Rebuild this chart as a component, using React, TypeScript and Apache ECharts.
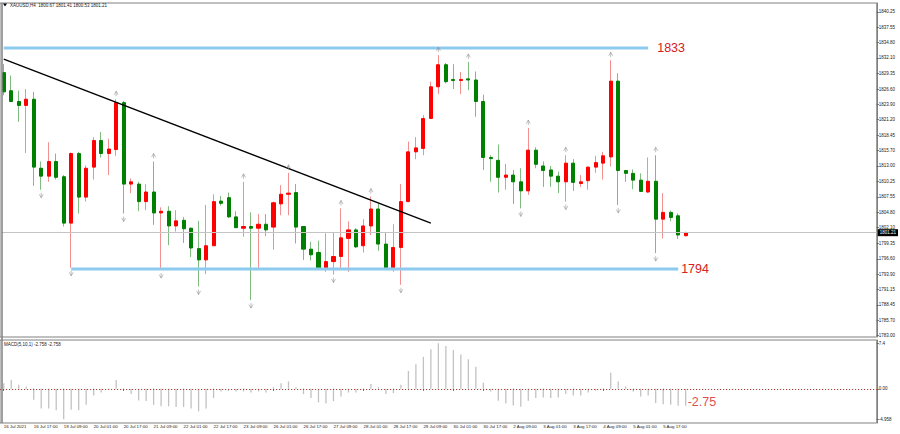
import React, { useEffect, useRef } from 'react';
import * as echarts from 'echarts';

const headerText = 'XAUUSD,H4  1800.67 1801.41 1800.53 1801.21';
const macdTitle = 'MACD(5,10,1) -2.758 -2.758';

// each bar: [open, close, low, high]
const candles: number[][] = [
  [1829.5, 1826.1, 1825.5, 1831.0],
  [1826.3, 1824.4, 1824.3, 1829.0],
  [1824.4, 1823.7, 1820.8, 1826.3],
  [1823.7, 1824.8, 1815.3, 1826.6],
  [1824.8, 1812.8, 1809.5, 1826.1],
  [1812.6, 1811.2, 1808.8, 1813.8],
  [1811.2, 1813.8, 1810.2, 1817.2],
  [1813.8, 1811.0, 1810.6, 1815.2],
  [1811.1, 1802.9, 1802.3, 1811.4],
  [1802.9, 1815.2, 1795.0, 1815.4],
  [1815.2, 1807.5, 1804.6, 1815.5],
  [1807.5, 1812.6, 1806.7, 1813.1],
  [1812.8, 1817.5, 1810.6, 1818.1],
  [1817.5, 1815.2, 1814.5, 1819.0],
  [1815.2, 1816.0, 1811.4, 1817.8],
  [1815.9, 1824.2, 1814.8, 1824.8],
  [1824.2, 1809.8, 1804.6, 1824.5],
  [1809.8, 1810.2, 1808.2, 1810.8],
  [1809.8, 1806.7, 1805.0, 1810.2],
  [1806.7, 1808.4, 1805.2, 1809.8],
  [1808.4, 1804.7, 1802.6, 1813.8],
  [1804.7, 1805.0, 1794.6, 1805.7],
  [1805.0, 1802.4, 1799.0, 1805.9],
  [1802.4, 1803.3, 1801.4, 1805.2],
  [1803.4, 1801.9, 1799.4, 1804.0],
  [1802.0, 1798.5, 1796.9, 1802.1],
  [1798.4, 1796.4, 1791.7, 1803.3],
  [1796.4, 1798.9, 1793.9, 1806.1],
  [1798.9, 1806.7, 1798.9, 1808.0],
  [1806.8, 1806.4, 1806.0, 1807.7],
  [1807.4, 1804.0, 1803.8, 1808.3],
  [1804.0, 1802.1, 1802.0, 1805.0],
  [1802.0, 1802.3, 1800.5, 1810.2],
  [1802.3, 1802.0, 1789.3, 1804.8],
  [1802.0, 1802.7, 1794.7, 1804.5],
  [1802.7, 1801.7, 1800.6, 1804.5],
  [1802.2, 1806.5, 1798.2, 1806.7],
  [1806.3, 1808.0, 1804.3, 1809.6],
  [1808.0, 1808.2, 1804.3, 1811.8],
  [1808.3, 1802.2, 1799.3, 1809.8],
  [1802.3, 1798.3, 1796.4, 1802.4],
  [1798.3, 1797.3, 1796.3, 1799.6],
  [1797.7, 1794.7, 1794.7, 1799.8],
  [1794.7, 1796.1, 1794.3, 1801.1],
  [1796.1, 1797.0, 1793.8, 1801.2],
  [1797.0, 1800.3, 1794.6, 1805.5],
  [1800.2, 1801.7, 1794.3, 1803.2],
  [1801.7, 1798.7, 1798.5, 1802.0],
  [1798.9, 1802.4, 1797.7, 1803.6],
  [1802.4, 1805.4, 1800.8, 1807.6],
  [1805.4, 1799.2, 1798.0, 1806.4],
  [1799.2, 1795.0, 1794.6, 1801.3],
  [1795.0, 1798.6, 1794.3, 1802.7],
  [1798.6, 1806.7, 1792.0, 1809.8],
  [1806.7, 1815.5, 1806.6, 1817.3],
  [1815.5, 1816.2, 1814.2, 1818.1],
  [1816.1, 1821.4, 1814.9, 1822.0],
  [1821.4, 1827.0, 1821.4, 1827.9],
  [1827.0, 1830.9, 1825.7, 1832.6],
  [1830.9, 1827.9, 1827.6, 1831.2],
  [1828.3, 1828.1, 1826.6, 1831.0],
  [1828.1, 1828.3, 1825.7, 1829.6],
  [1828.4, 1828.2, 1826.4, 1831.4],
  [1828.2, 1824.4, 1821.7, 1829.7],
  [1824.4, 1814.5, 1812.3, 1825.6],
  [1814.5, 1814.3, 1810.2, 1814.9],
  [1814.0, 1811.0, 1808.3, 1816.8],
  [1811.0, 1811.4, 1808.8, 1813.4],
  [1811.4, 1810.2, 1806.3, 1812.3],
  [1810.2, 1808.6, 1805.5, 1812.6],
  [1808.6, 1815.8, 1807.9, 1819.7],
  [1815.8, 1813.3, 1812.6, 1816.3],
  [1813.0, 1812.2, 1809.3, 1813.8],
  [1812.3, 1811.2, 1809.3, 1813.0],
  [1811.2, 1810.2, 1808.2, 1812.0],
  [1810.2, 1813.5, 1806.7, 1814.9],
  [1813.5, 1810.1, 1808.6, 1814.2],
  [1809.9, 1810.2, 1809.3, 1811.4],
  [1810.4, 1812.8, 1808.8, 1812.9],
  [1812.8, 1813.6, 1811.8, 1814.8],
  [1813.5, 1814.8, 1810.6, 1815.5],
  [1814.6, 1828.0, 1812.9, 1831.7],
  [1828.0, 1812.2, 1806.1, 1829.4],
  [1812.2, 1811.7, 1810.2, 1812.3],
  [1811.7, 1810.5, 1808.9, 1812.4],
  [1810.5, 1808.5, 1808.4, 1811.7],
  [1808.4, 1810.3, 1808.2, 1814.5],
  [1810.3, 1803.6, 1797.6, 1814.9],
  [1803.6, 1804.8, 1800.2, 1808.2],
  [1804.8, 1803.9, 1803.2, 1805.1],
  [1804.2, 1800.8, 1800.1, 1804.6],
  [1800.67, 1801.21, 1800.53, 1801.41],
];

const macdHist: number[] = [
  0.9, 1.45, 0.65, 0.38, -1.77, -3.2, -3.2, -3.5, -4.958, -3.4,
  -3.5, -2.6, -1.1, -0.6, -0.1, 1.45, 0.05, -0.86, -1.9, -2.0,
  -2.6, -2.85, -2.85, -2.96, -2.96, -3.2, -3.65, -3.2, -1.5, -0.43,
  -0.32, -0.43, -0.43, -0.6, -0.43, -0.6, 0.27, 0.9, 1.2, 0.27,
  -0.86, -1.5, -2.2, -2.37, -2.0, -1.24, -0.6, -0.6, -0.05, 0.8,
  0.27, -0.86, -0.7, 0.65, 2.9, 3.98, 5.2, 6.45, 7.4, 6.95,
  6.3, 5.6, 4.8, 3.6, 1.0, -0.43, -1.94, -2.4, -2.7, -2.9,
  -1.94, -1.5, -1.4, -1.5, -1.4, -0.86, -1.1, -1.1, -0.6, -0.3,
  0.1, 2.6, 1.2, 0.38, -0.43, -1.24, -1.1, -2.3, -2.5, -2.6,
  -2.75, -2.758,
];

const xTickLabels = [
  '16 Jul 2021', '16 Jul 17:00', '19 Jul 09:00', '20 Jul 01:00', '20 Jul 17:00',
  '21 Jul 09:00', '22 Jul 01:00', '22 Jul 17:00', '23 Jul 09:00', '26 Jul 01:00',
  '26 Jul 17:00', '27 Jul 09:00', '28 Jul 01:00', '28 Jul 17:00', '29 Jul 09:00',
  '30 Jul 01:00', '30 Jul 17:00', '2 Aug 09:00', '3 Aug 01:00', '3 Aug 17:00',
  '4 Aug 09:00', '5 Aug 01:00', '5 Aug 17:00',
];

const yTickLabels = [
  '1783.00', '1785.70', '1788.45', '1791.15', '1793.90', '1796.60', '1799.35',
  '1802.10', '1804.80', '1807.55', '1810.25', '1813.00', '1815.70', '1818.45',
  '1821.20', '1823.90', '1826.60', '1829.35', '1832.10', '1834.80', '1837.55', '1840.25',
];

const macdTickValues = [7.4, 0, -4.958];
const macdTickLabels = ['7.4', '0.00', '-4.958'];

const fractalUp = [15, 20, 32, 38, 45, 49, 58, 62, 70, 75, 81, 87];
const fractalDown = [5, 9, 16, 21, 26, 33, 44, 53, 69, 75, 82, 87];

const trendLine = [[0, 1831.9], [57, 1802.9]];
const resistance = { value: 1833.86, label: '1833', from: 0, to: 86 };
const support = { value: 1794.79, label: '1794', from: 9, to: 90 };
const currentPrice = 1801.21;
const macdNow = { value: -2.758, label: '-2.75' };

const SLOTS = 117;
const categories = Array.from({ length: SLOTS }, (_, i) => String(i));

const FONT = 'Liberation Sans, Arial, sans-serif';
const RED = '#FF0000';
const GREEN = '#008000';
const TXT_RED = '#D42020';

export default function App() {
  const ref = useRef<HTMLDivElement>(null);

  useEffect(() => {
    if (!ref.current) return;
    const chart = echarts.init(ref.current, undefined, { renderer: 'svg' });

    const bodies = candles.map(([o, c]) => [o, c, Math.min(o, c), Math.max(o, c)]);
    const upArrow = 'path://M0,5 L2.5,0 L5,5 M2.5,0 L2.5,7';
    const downArrow = 'path://M0,2 L2.5,7 L5,2 M2.5,7 L2.5,0';

    const option: any = {
      animation: false,
      backgroundColor: '#ffffff',
      textStyle: { fontFamily: FONT },
      grid: [
        { left: -0.75, top: 3, width: 877.5, height: 334, show: true, borderColor: '#808080', borderWidth: 1 },
        { left: -0.75, top: 340, width: 877.5, height: 83, show: true, borderColor: '#808080', borderWidth: 1 },
      ],
      xAxis: [
        {
          type: 'category', gridIndex: 0, data: categories, boundaryGap: true,
          axisLine: { show: false }, axisTick: { show: false }, axisLabel: { show: false }, splitLine: { show: false },
        },
        {
          type: 'category', gridIndex: 1, data: categories, boundaryGap: true,
          axisLine: { show: false },
          axisTick: {
            show: true, alignWithLabel: true, length: 2, lineStyle: { color: '#606060' },
            interval: (i: number) => i % 4 === 0 && i / 4 < xTickLabels.length,
          },
          axisLabel: {
            show: true, align: 'left', margin: 1.5, fontSize: 4.4, color: '#202020', fontFamily: FONT,
            interval: (i: number) => i % 4 === 0 && i / 4 < xTickLabels.length,
            formatter: (v: string) => {
              const i = Number(v);
              return i % 4 === 0 && xTickLabels[i / 4] ? xTickLabels[i / 4] : '';
            },
          },
          splitLine: { show: false },
        },
      ],
      yAxis: [
        {
          type: 'value', gridIndex: 0, position: 'right', min: 1782.77, max: 1841.81,
          splitLine: { show: false },
          axisLine: { show: true, lineStyle: { color: '#808080' } },
          axisTick: { show: true, length: 2, customValues: yTickLabels.map(Number), lineStyle: { color: '#606060' } },
          axisLabel: {
            show: true, margin: 2, fontSize: 4.5, color: '#202020', fontFamily: FONT,
            customValues: yTickLabels.map(Number),
            formatter: (v: number) => v.toFixed(2),
          },
        },
        {
          type: 'value', gridIndex: 1, position: 'right', min: -5.56, max: 7.94,
          splitLine: { show: false },
          axisLine: { show: true, lineStyle: { color: '#808080' } },
          axisTick: { show: true, length: 2, customValues: macdTickValues, lineStyle: { color: '#606060' } },
          axisLabel: {
            show: true, margin: 2, fontSize: 4.5, color: '#202020', fontFamily: FONT,
            customValues: macdTickValues,
            formatter: (v: number) => {
              const k = macdTickValues.findIndex((t) => Math.abs(t - v) < 1e-6);
              return k >= 0 ? macdTickLabels[k] : '';
            },
          },
        },
      ],
      series: [
        {
          name: 'wicks', type: 'candlestick', xAxisIndex: 0, yAxisIndex: 0, data: candles,
          barWidth: 0.01,
          itemStyle: { color: '#F29090', color0: '#80BC80', borderColor: '#F29090', borderColor0: '#80BC80', borderWidth: 1 },
          z: 2,
        },
        {
          name: 'bodies', type: 'candlestick', xAxisIndex: 0, yAxisIndex: 0, data: bodies,
          barWidth: 3.6,
          itemStyle: { color: RED, color0: GREEN, borderColor: RED, borderColor0: GREEN, borderWidth: 1 },
          z: 3,
          markLine: {
            silent: true, symbol: ['none', 'none'],
            lineStyle: { color: '#C4C4C4', width: 1, type: 'solid' },
            label: {
              show: true, position: 'end', distance: 1, formatter: currentPrice.toFixed(2),
              backgroundColor: '#000000', color: '#ffffff', fontSize: 4.5, padding: [1, 2], fontFamily: FONT,
            },
            data: [{ yAxis: currentPrice }],
          },
        },
        {
          name: 'trend', type: 'line', xAxisIndex: 0, yAxisIndex: 0, data: trendLine,
          symbol: 'none', lineStyle: { color: '#000000', width: 1.4 }, z: 5,
        },
        {
          name: 'resistance', type: 'line', xAxisIndex: 0, yAxisIndex: 0,
          data: [[resistance.from, resistance.value], [resistance.to, resistance.value]],
          symbol: 'none', lineStyle: { color: '#8CCBEE', width: 3 }, z: 4,
          endLabel: { show: true, formatter: resistance.label, color: TXT_RED, fontSize: 12.5, distance: 9, fontFamily: FONT },
        },
        {
          name: 'support', type: 'line', xAxisIndex: 0, yAxisIndex: 0,
          data: [[support.from, support.value], [support.to, support.value]],
          symbol: 'none', lineStyle: { color: '#8CCBEE', width: 3 }, z: 4,
          endLabel: { show: true, formatter: support.label, color: TXT_RED, fontSize: 12.5, distance: 3, fontFamily: FONT },
        },
        {
          name: 'fractalUp', type: 'scatter', xAxisIndex: 0, yAxisIndex: 0,
          data: fractalUp.map((i) => [i, candles[i][3]]),
          symbol: upArrow, symbolSize: [4, 5], symbolOffset: [0, -5.5], symbolKeepAspect: false,
          itemStyle: { color: 'rgba(0,0,0,0)', borderColor: '#8C8C8C', borderWidth: 0.7 }, z: 6,
        },
        {
          name: 'fractalDown', type: 'scatter', xAxisIndex: 0, yAxisIndex: 0,
          data: fractalDown.map((i) => [i, candles[i][2]]),
          symbol: downArrow, symbolSize: [4, 5], symbolOffset: [0, 5.5], symbolKeepAspect: false,
          itemStyle: { color: 'rgba(0,0,0,0)', borderColor: '#8C8C8C', borderWidth: 0.7 }, z: 6,
        },
        {
          name: 'macd', type: 'bar', xAxisIndex: 1, yAxisIndex: 1, data: macdHist,
          barWidth: 1.3, itemStyle: { color: '#C2C2C2' },
          markLine: {
            silent: true, symbol: ['none', 'none'],
            lineStyle: { color: '#A84040', width: 1, type: [1.2, 1.8] },
            label: { show: false },
            data: [{ yAxis: 0 }],
          },
        },
        {
          name: 'macdNow', type: 'scatter', xAxisIndex: 1, yAxisIndex: 1,
          data: [[macdHist.length - 1, macdNow.value]],
          symbolSize: 0,
          label: {
            show: true, position: 'right', distance: 2, offset: [0, -4], formatter: macdNow.label,
            color: TXT_RED, fontSize: 12.5, fontFamily: FONT,
          },
        },
      ],
      graphic: [
        { type: 'line', shape: { x1: 2, y1: 3, x2: 2, y2: 423 }, style: { stroke: '#808080', lineWidth: 1.5 }, z: 10 },
        { type: 'polygon', shape: { points: [[3, 3.5], [7, 3.5], [5, 6.5]] }, style: { fill: '#000' }, z: 10 },
        {
          type: 'text', x: 10, y: 5, z: 10,
          style: { text: headerText, fontSize: 4.5, fill: '#202020', fontFamily: FONT, verticalAlign: 'middle' },
        },
        {
          type: 'text', x: 4, y: 344, z: 10,
          style: { text: macdTitle, fontSize: 4.5, fill: '#202020', fontFamily: FONT, verticalAlign: 'middle' },
        },
      ],
    };

    chart.setOption(option);
    return () => chart.dispose();
  }, []);

  return <div ref={ref} style={{ position: 'fixed', left: 0, top: 0, width: 900, height: 434 }} />;
}
